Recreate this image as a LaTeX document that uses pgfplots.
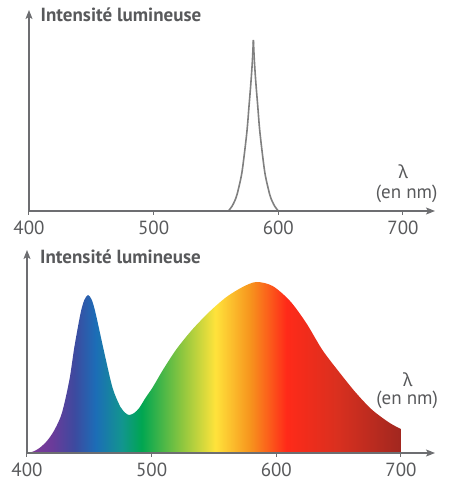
\documentclass[border=0pt]{standalone}
\usepackage{pgfplots}
\pgfplotsset{compat=1.18}
\usepackage{fontspec}
\setmainfont{PT Sans}
\newfontfamily\greekfont{Noto Sans}
\usetikzlibrary{arrows.meta}

\definecolor{axisgray}{HTML}{6D6E71}
\definecolor{txtgray}{HTML}{58595B}
\definecolor{curvegray}{HTML}{808080}

% 400 nm -> 25bp, 700 nm -> 75bp
\definecolor{s400}{HTML}{833A98}
\definecolor{s420}{HTML}{6A3B9A}
\definecolor{s438}{HTML}{3D4A9F}
\definecolor{s455}{HTML}{1C6DB7}
\definecolor{s476}{HTML}{12958F}
\definecolor{s492}{HTML}{00A651}
\definecolor{s524}{HTML}{8CC63F}
\definecolor{s551}{HTML}{FFE33B}
\definecolor{s579}{HTML}{F7941D}
\definecolor{s608}{HTML}{FF2A19}
\definecolor{s649}{HTML}{D9301F}
\definecolor{s700}{HTML}{A1271F}
\pgfdeclarehorizontalshading{spectrum}{100bp}{
  color(0bp)=(s400); color(25bp)=(s400); color(28.33bp)=(s420);
  color(31.33bp)=(s438); color(34.17bp)=(s455); color(37.67bp)=(s476);
  color(40.33bp)=(s492); color(45.67bp)=(s524); color(50.17bp)=(s551);
  color(54.83bp)=(s579); color(59.67bp)=(s608); color(66.5bp)=(s649);
  color(75bp)=(s700); color(100bp)=(s700)}

\pgfplotsset{
  spec/.style={
    scale only axis, anchor=south west,
    xmin=400, ymin=0,
    axis lines=left, axis on top, clip=false,
    axis line style={draw=axisgray, line width=1.1pt,
      -{Stealth[length=9pt,width=7pt,inset=2pt]}},
    xtick={400,500,600,700}, ytick=\empty,
    tick align=outside, major tick length=4pt,
    tick style={draw=axisgray, line width=1pt},
    xticklabel style={font=\fontsize{19}{20}\selectfont, text=txtgray,
      inner sep=0pt, anchor=north, yshift=-6pt},
    /pgf/number format/assume math mode=true,
  },
}
\tikzset{
  ttl/.style={anchor=base west, inner sep=0pt, text=txtgray,
    font=\fontsize{19}{20}\selectfont\bfseries},
  lam/.style={anchor=base, inner sep=0pt, text=txtgray,
    font=\fontsize{18}{20}\selectfont\greekfont},
  unit/.style={anchor=base, inner sep=0pt, text=txtgray,
    font=\fontsize{19}{20}\selectfont},
}

\begin{document}
\begin{tikzpicture}
\useasboundingbox (0,0) rectangle (451pt,483pt);

% monochromatic source
\begin{axis}[spec, at={(29pt,272pt)}, width=406pt, height=201pt,
  xmax=725.7, ymax=201]
  \addplot[curvegray, line width=1.6pt, smooth, mark=none] coordinates {
    (560,0) (563,5) (566,13) (568,22) (571,40) (574.7,78)
    (576.5,105) (578,128) (579.2,150) (580,171)
  };
  \addplot[curvegray, line width=1.6pt, smooth, mark=none] coordinates {
    (580,171) (580.8,150) (582,128) (583.5,105) (585.3,78)
    (589,40) (592,22) (594,13) (597,5) (600,0)
  };
  \node[ttl] at (axis cs:409.2,189.3) {Intensité lumineuse};
  \node[lam] at (axis cs:700.2,32.7) {λ};
  \node[unit] at (axis cs:703,12.7) {(en nm)};
\end{axis}

% white light spectrum
\begin{axis}[spec, at={(27pt,30pt)}, width=408pt, height=203pt,
  xmax=727.3, ymax=203]
  \addplot[draw=none, shade, shading=spectrum, smooth, mark=none] coordinates {
    (400,0) (405,1.5) (410,5) (416,12) (422,23) (428,40) (434,73)
    (438,106) (443,140) (446,153) (449,158) (452,153) (455,140)
    (461,106) (467,73) (470,60) (475,46) (479,40) (482,38) (486,40)
    (490,45) (495,55) (501,66) (509,83) (520,104) (533,124) (547,142)
    (560,156) (573,166) (584,171) (597,167) (611,152) (624,130)
    (637,103) (651,80) (664,60) (677,43) (691,30) (700,24)
  } \closedcycle;
  \node[ttl] at (axis cs:410.4,189) {Intensité lumineuse};
  \node[lam] at (axis cs:705.5,66.3) {λ};
  \node[unit] at (axis cs:705,48.7) {(en nm)};
\end{axis}
\end{tikzpicture}
\end{document}
